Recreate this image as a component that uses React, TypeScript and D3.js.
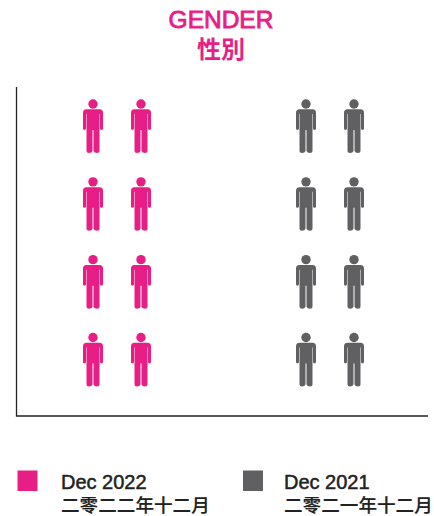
import React from "react";
import * as d3 from "d3";

const titleLines = ["GENDER", "性別"];
const seriesNames = ["Dec 2022", "Dec 2021"];
const seriesNamesZh = ["二零二二年十二月", "二零二一年十二月"];
const seriesColors = ["#e61e86", "#606062"];
const seriesIconCounts = [8, 8];
const iconsPerRow = 2;
const rowsCount = 4;

const FONT = "'Liberation Sans', 'Noto Sans CJK TC', sans-serif";
const iconPath =
  "M-6.5 5.3 H6.5 Q10 5.3 10 8.8 V24.6 Q10 26 8.6 26 Q7 26 7 24.6 V10 H6.5 V47 Q6.5 49 4 49 Q1.2 49 0.5 47 V26 H-0.5 V47 Q-1.2 49 -4 49 Q-6.5 49 -6.5 47 V10 H-7 V24.6 Q-7 26 -8.6 26 Q-10 26 -10 24.6 V8.8 Q-10 5.3 -6.5 5.3 Z";

export default function App() {
  const col = d3.scalePoint<number>().domain(d3.range(iconsPerRow)).range([0, 48]);
  const row = d3.scalePoint<number>().domain(d3.range(rowsCount)).range([104, 337.5]);
  const groupLeft = [93, 306];
  const legendX = [17.5, 243];
  const legendTextX = [61, 284];

  return (
    <svg
      width={434}
      height={516}
      style={{ position: "absolute", left: 0, top: 0, background: "#fff" }}
      fontFamily={FONT}
    >
      <text x={221} y={27.5} textAnchor="middle" fontSize={24.5} fill={seriesColors[0]} stroke={seriesColors[0]} strokeWidth={0.85}>
        {titleLines[0]}
      </text>
      <text x={221} y={58} textAnchor="middle" fontSize={24} fontWeight={700} fill={seriesColors[0]}>
        {titleLines[1]}
      </text>

      <path d="M16.5 87 V416 H428" fill="none" stroke="#222" strokeWidth={1.3} />

      {seriesNames.map((name, s) =>
        d3.range(seriesIconCounts[s]).map((k) => {
          const c = k % iconsPerRow;
          const r = Math.floor(k / iconsPerRow);
          const x = groupLeft[s] + (col(c) as number);
          const y = row(r) as number;
          return (
            <g key={name + k} transform={`translate(${x},${y})`} fill={seriesColors[s]}>
              <circle r={4.7} cx={0} cy={0} />
              <path d={iconPath} />
            </g>
          );
        })
      )}

      {seriesNames.map((name, s) => (
        <g key={name}>
          <rect x={legendX[s]} y={470.5} width={20} height={20.5} fill={seriesColors[s]} />
          <text x={legendTextX[s]} y={489} fontSize={20} fill="#222" stroke="#222" strokeWidth={0.5}>
            {name}
          </text>
          <text x={legendTextX[s]} y={512} fontSize={18.6} fontWeight={500} fill="#222" stroke="#222" strokeWidth={0.15}>
            {seriesNamesZh[s]}
          </text>
        </g>
      ))}
    </svg>
  );
}
